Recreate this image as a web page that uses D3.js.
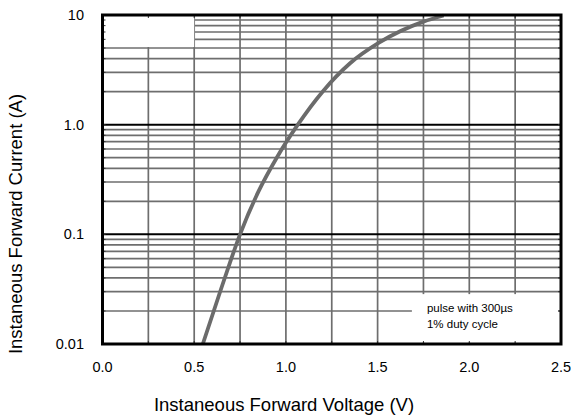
<!DOCTYPE html>
<html lang="en">
<head>
<meta charset="UTF-8">
<title>Forward characteristics</title>
<style>
  body { margin: 0; background: #fff; }
  svg text { font-family: "Liberation Sans", Arial, sans-serif; fill: #000; }
</style>
<script src="https://d3js.org/d3.v7.min.js"></script>
</head>
<body>
<script>
// values
const voltage = [0.547, 0.64, 0.695, 0.75, 0.85, 0.95, 1.065, 1.20, 1.35, 1.51, 1.75, 1.86];
const current = [0.01, 0.0295, 0.0553, 0.1, 0.245, 0.50, 1.0, 2.0, 3.63, 5.62, 8.7, 9.9];

const xTicks = [0, 0.5, 1.0, 1.5, 2.0, 2.5];
const xTickLabels = ["0.0", "0.5", "1.0", "1.5", "2.0", "2.5"];
const yTicks = [0.01, 0.1, 1, 10];
const yTickLabels = ["0.01", "0.1", "1.0", "10"];
const xGridStep = 0.25;

const noteLines = ["pulse with 300µs", "1% duty cycle"];
const xTitle = "Instaneous Forward Voltage (V)";
const yTitle = "Instaneous Forward Current (A)";

const W = 571, H = 418;
const pLeft = 102.5, pRight = 561, pTop = 15, pBottom = 344;

const svg = d3.select("body").append("svg")
  .attr("width", W).attr("height", H);

const x = d3.scaleLinear().domain([0, 2.5]).range([pLeft, pRight]);
const y = d3.scaleLog().domain([0.01, 10]).range([pBottom, pTop]);

const gridGray = "#6e6e6e";

// vertical grid, every 0.25 V
const xGrid = d3.range(0, 2.5 + 1e-9, xGridStep);
svg.append("g").selectAll("line").data(xGrid).enter().append("line")
  .attr("x1", d => x(d)).attr("x2", d => x(d))
  .attr("y1", pTop).attr("y2", pBottom)
  .attr("stroke", gridGray).attr("stroke-width", 1.7);

// horizontal grid: 2..9 of every decade gray, decades black
const isDecade = v => Math.abs(Math.log10(v) - Math.round(Math.log10(v))) < 1e-9;
const yGrid = y.ticks();
svg.append("g").selectAll("line").data(yGrid.filter(v => !isDecade(v))).enter().append("line")
  .attr("x1", pLeft).attr("x2", pRight)
  .attr("y1", d => y(d)).attr("y2", d => y(d))
  .attr("stroke", gridGray).attr("stroke-width", 1.7);
svg.append("g").selectAll("line").data(yGrid.filter(v => isDecade(v))).enter().append("line")
  .attr("x1", pLeft).attr("x2", pRight)
  .attr("y1", d => y(d)).attr("y2", d => y(d))
  .attr("stroke", "#000").attr("stroke-width", 2);

// blank patches over the grid
svg.append("rect")
  .attr("x", x(0)).attr("y", y(10))
  .attr("width", x(0.5) - x(0)).attr("height", y(5) - y(10) - 1)
  .attr("fill", "#fff");
svg.append("rect")
  .attr("x", x(1.687)).attr("y", y(0.0285))
  .attr("width", x(2.485) - x(1.687)).attr("height", y(0.0103) - y(0.0285))
  .attr("fill", "#fff");

// small inward tick marks on the frame
const tickG = svg.append("g").attr("stroke", "#333").attr("stroke-width", 1);
tickG.selectAll(".tb").data(xGrid).enter().append("line")
  .attr("x1", d => x(d)).attr("x2", d => x(d))
  .attr("y1", pBottom).attr("y2", pBottom - 3);
tickG.selectAll(".tt").data(xGrid).enter().append("line")
  .attr("x1", d => x(d)).attr("x2", d => x(d))
  .attr("y1", pTop).attr("y2", pTop + 3);
tickG.selectAll(".tl").data(yGrid).enter().append("line")
  .attr("x1", pLeft).attr("x2", pLeft + 3)
  .attr("y1", d => y(d)).attr("y2", d => y(d));
tickG.selectAll(".tr").data(yGrid).enter().append("line")
  .attr("x1", pRight).attr("x2", pRight - 3)
  .attr("y1", d => y(d)).attr("y2", d => y(d));

// note text
svg.append("g").selectAll("text").data(noteLines).enter().append("text")
  .attr("x", x(1.769))
  .attr("y", (d, i) => y(0.0196) + i * 16)
  .attr("font-size", 11.5)
  .text(d => d);

// the curve
const pts = voltage.map((v, i) => [v, current[i]]);
const line = d3.line()
  .x(d => x(d[0])).y(d => y(d[1]))
  .curve(d3.curveMonotoneX);
svg.append("path")
  .datum(pts)
  .attr("d", line)
  .attr("fill", "none")
  .attr("stroke", "#6b6b6b")
  .attr("stroke-width", 3.8)
  .attr("stroke-linecap", "butt");

// frame
svg.append("rect")
  .attr("x", pLeft).attr("y", pTop)
  .attr("width", pRight - pLeft).attr("height", pBottom - pTop)
  .attr("fill", "none").attr("stroke", "#000").attr("stroke-width", 3);

// x tick labels
svg.append("g").selectAll("text").data(xTicks).enter().append("text")
  .attr("x", d => x(d)).attr("y", pBottom + 28)
  .attr("text-anchor", "middle").attr("font-size", 14.5)
  .text((d, i) => xTickLabels[i]);

// y tick labels
svg.append("g").selectAll("text").data(yTicks).enter().append("text")
  .attr("x", 84).attr("y", d => y(d) + 5)
  .attr("text-anchor", "end").attr("font-size", 14.5)
  .text((d, i) => yTickLabels[i]);

// axis titles
svg.append("text")
  .attr("x", 284).attr("y", 411)
  .attr("text-anchor", "middle").attr("font-size", 18.5)
  .text(xTitle);
svg.append("text")
  .attr("transform", "translate(22,224) rotate(-90)")
  .attr("text-anchor", "middle").attr("font-size", 18.5)
  .text(yTitle);
</script>
</body>
</html>
